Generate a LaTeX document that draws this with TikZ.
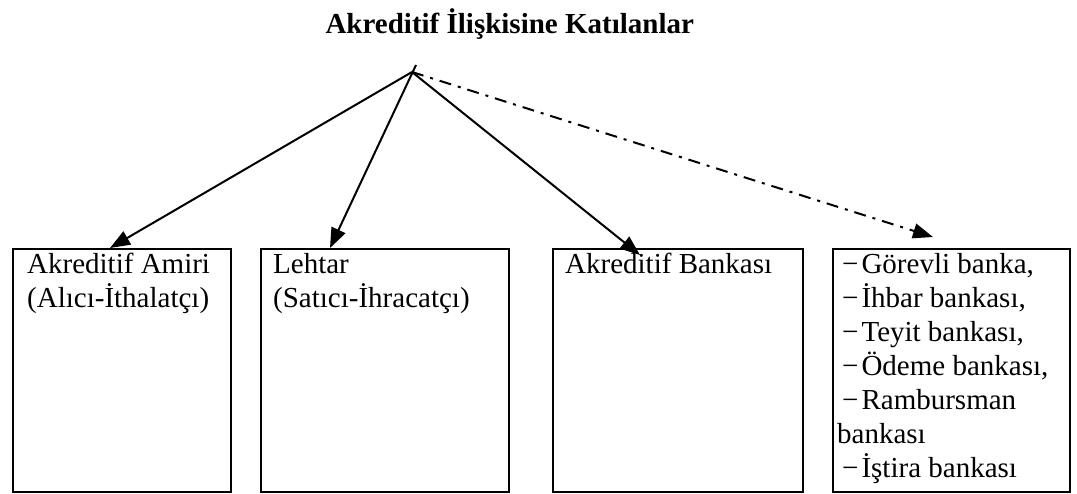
\documentclass[tikz,border=0pt]{standalone}
\usepackage{fontspec}
\setmainfont{Liberation Serif}
\usepackage{tikz}
\usetikzlibrary{arrows.meta,positioning}

\begin{document}
\begin{tikzpicture}[x=1pt,y=-1pt,%
    kutu/.style={draw,line width=2.4pt,anchor=north west,inner sep=0pt,minimum height=243pt},%
    yazi/.style={anchor=north west,align=left,inner sep=0pt,font=\fontsize{29}{34}\selectfont},%
    ok/.style={line width=2pt,-{Triangle[length=20pt,width=15pt]}},%
    kesik/.style={ok,dash pattern=on 12pt off 7pt on 3pt off 7pt}]%
            \useasboundingbox (0,0) rectangle (1077,493); %%
            \node[font=\fontsize{29}{34}\selectfont\bfseries,anchor=base west] (baslik) at (322,33) {Akreditif İlişkisine Katılanlar}; %%
            \begin{scope}
            \node[kutu,minimum width=218pt] (amir) at (12,248) {}; %%
            \node[kutu,minimum width=248pt] (lehtar) at (260,248) {}; %%
            \node[kutu,minimum width=250pt] (banka) at (552,248) {}; %%
            \node[kutu,minimum width=237pt] (diger) at (832,248) {}; %%
            \end{scope}
            \node[yazi] (amirtxt) at ([xshift=15pt,yshift=-3pt]amir.north west) {\rule{0pt}{22pt}Akreditif Amiri\\(Alıcı-İthalatçı)}; %%
            \node[yazi] (lehtartxt) at ([xshift=13pt,yshift=-3pt]lehtar.north west) {\rule{0pt}{22pt}Lehtar\\(Satıcı-İhracatçı)}; %%
            \node[yazi] (bankatxt) at ([xshift=13pt,yshift=-3pt]banka.north west) {\rule{0pt}{22pt}Akreditif Bankası}; %%
            \node[yazi] (digertxt) at ([xshift=5pt,yshift=-3pt]diger.north west) {%
                \rule{0pt}{22pt}\hspace*{5pt}−\kern3pt Görevli banka,\\\hspace*{5pt}−\kern3pt İhbar bankası,\\\hspace*{5pt}−\kern3pt Teyit bankası,\\%
                \hspace*{5pt}−\kern3pt Ödeme bankası,\\\hspace*{5pt}−\kern3pt Rambursman\\bankası\\\hspace*{5pt}−\kern3pt İştira bankası}; %%
            \coordinate (tepe) at (412,72); %%
            \coordinate (tepeuc) at (416,65); %%
            \draw[ok] (tepe)--([xshift=98pt]amir.north west); %%
            \draw[ok] (tepeuc)--([xshift=70pt]lehtar.north west); %%
            \draw[ok] (tepe)--([xshift=88pt,yshift=-7pt]banka.north west); %%
            \draw[kesik] (tepe)--([xshift=101pt,yshift=11pt]diger.north west); %%
\end{tikzpicture}
\end{document}
